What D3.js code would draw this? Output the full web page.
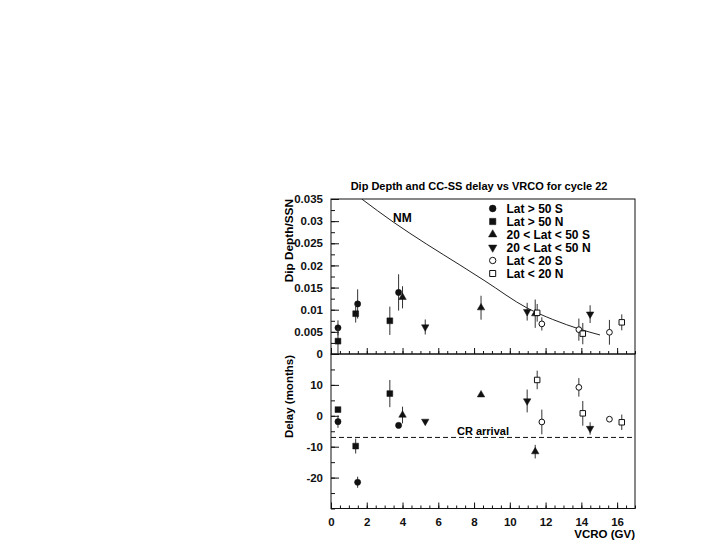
<!DOCTYPE html>
<html>
<head>
<meta charset="utf-8">
<script src="https://cdn.jsdelivr.net/npm/d3@7"></script>
<style>
  body { margin: 0; background: white; }
  svg { display: block; font-family: 'Liberation Sans', Arial, sans-serif; font-weight: bold; }
</style>
</head>
<body>
<main></main>
<script>
// Stations per latitude group: VCRO (GV), dip depth/SSN, delay (months)
const seriesNames = ['Lat > 50 S', 'Lat > 50 N', '20 < Lat < 50 S', '20 < Lat < 50 N', 'Lat < 20 S', 'Lat < 20 N'];

const vcroHiS = [0.39, 1.49, 3.78];
const dipHiS = [0.0059, 0.0113, 0.0139];
const dipErrHiS = [0.0017, 0.0033, 0.0041];
const delayHiS = [-1.9, -21.5, -3.1];
const delayErrHiS = [2.0, 1.8, 0];

const vcroHiN = [0.39, 1.38, 3.29];
const dipHiN = [0.0029, 0.0091, 0.0075];
const dipErrHiN = [0.003, 0.002, 0.0032];
const delayHiN = [2.0, -9.8, 7.2];
const delayErrHiN = [0, 2.4, 4.4];

const vcroMidS = [4.0, 8.39, 11.42];
const dipMidS = [0.0128, 0.01045, 0.0091];
const dipErrMidS = [0.0025, 0.0027, 0.0032];
const delayMidS = [0.25, 6.8, -11.6];
const delayErrMidS = [2.7, 0, 2.2];

const vcroMidN = [5.27, 10.97, 14.49];
const dipMidN = [0.0061, 0.00955, 0.009];
const dipErrMidN = [0.0017, 0.002, 0.002];
const delayMidN = [-1.8, 4.8, -4.1];
const delayErrMidN = [0, 3.7, 2.0];

const vcroLoS = [11.79, 13.86, 15.57];
const dipLoS = [0.0068, 0.0055, 0.0049];
const dipErrLoS = [0.0015, 0.0025, 0.0028];
const delayLoS = [-2.0, 9.2, -1.1];
const delayErrLoS = [4.0, 3.0, 0];

const vcroLoN = [11.53, 14.08, 16.26];
const dipLoN = [0.0093, 0.0046, 0.00715];
const dipErrLoN = [0.002, 0.0024, 0.0018];
const delayLoN = [11.6, 0.8, -2.1];
const delayErrLoN = [3.0, 4.0, 2.5];

// NM curve
const nmVcro = [1.72, 3.48, 5.35, 7.21, 8.61, 10.96, 12.4, 13.92, 15.04];
const nmDip = [0.035, 0.0298, 0.0248, 0.0201, 0.0165, 0.0104, 0.0078, 0.0056, 0.0043];

const crArrival = -7;

const xTicks = [0, 2, 4, 6, 8, 10, 12, 14, 16];
const topTicks = [0, 0.005, 0.01, 0.015, 0.02, 0.025, 0.03, 0.035];
const topTickLabels = ['0', '0.005', '0.01', '0.015', '0.02', '0.025', '0.03', '0.035'];
const botTicks = [-20, -10, 0, 10];
const botTickLabels = ['-20', '-10', '0', '10'];

const width = 720;
const height = 540;
const left = 331;
const right = 635;
const topY0 = 199;
const midY = 354;
const botY1 = 508.5;
const ink = '#111';

const groups = [
  { vcro: vcroHiS, dip: dipHiS, dipErr: dipErrHiS, delay: delayHiS, delayErr: delayErrHiS, shape: d3.symbolCircle, size: 30, rot: 0, open: false },
  { vcro: vcroHiN, dip: dipHiN, dipErr: dipErrHiN, delay: delayHiN, delayErr: delayErrHiN, shape: d3.symbolSquare, size: 34, rot: 0, open: false },
  { vcro: vcroMidS, dip: dipMidS, dipErr: dipErrMidS, delay: delayMidS, delayErr: delayErrMidS, shape: d3.symbolTriangle, size: 24, rot: 0, open: false },
  { vcro: vcroMidN, dip: dipMidN, dipErr: dipErrMidN, delay: delayMidN, delayErr: delayErrMidN, shape: d3.symbolTriangle, size: 24, rot: 180, open: false },
  { vcro: vcroLoS, dip: dipLoS, dipErr: dipErrLoS, delay: delayLoS, delayErr: delayErrLoS, shape: d3.symbolCircle, size: 26, rot: 0, open: true },
  { vcro: vcroLoN, dip: dipLoN, dipErr: dipErrLoN, delay: delayLoN, delayErr: delayErrLoN, shape: d3.symbolSquare, size: 30, rot: 0, open: true }
];

const xScale = d3.scaleLinear().domain([0, 17]).range([left, right]);
const yTop = d3.scaleLinear().domain([0, 0.035]).range([midY, topY0]);
const yBot = d3.scaleLinear().domain([-30, 20]).range([botY1, midY]);

const svg = d3.select('main')
  .append('svg')
  .attr('width', width)
  .attr('height', height)

// Title
svg.append('text')
  .text('Dip Depth and CC-SS delay vs VRCO for cycle 22')
  .attr('x', 479)
  .attr('y', 190)
  .attr('text-anchor', 'middle')
  .style('font-size', '11px')

// clip paths for each panel
const defs = svg.append('defs');
defs.append('clipPath').attr('id', 'clipTop')
  .append('rect').attr('x', left).attr('y', topY0).attr('width', right - left).attr('height', midY - topY0)
defs.append('clipPath').attr('id', 'clipBot')
  .append('rect').attr('x', left).attr('y', midY).attr('width', right - left).attr('height', botY1 - midY)

// axes helper
function xAxisAt(y, labels) {
  svg.append('g')
    .attr('transform', `translate(0, ${y})`)
    .call(d3.axisBottom(xScale).tickValues(d3.range(0, 17.01, 0.5)).tickSize(-3).tickFormat(''))
    .call(g => g.select('.domain').remove())
  const major = svg.append('g')
    .attr('transform', `translate(0, ${y})`)
    .call(d3.axisBottom(xScale).tickValues(xTicks).tickSize(-6).tickPadding(9)
      .tickFormat(d => labels ? d : ''))
    .call(g => g.select('.domain').remove())
  major.selectAll('text').style('font-size', '11.5px').style('font-family', null).attr('fill', ink)
  svg.selectAll('.tick line').attr('stroke', ink)
}

function yAxisAt(scale, minorStep, majors, labels) {
  const dom = scale.domain();
  svg.append('g')
    .attr('transform', `translate(${left}, 0)`)
    .call(d3.axisLeft(scale).tickValues(d3.range(dom[0], dom[1] + minorStep / 2, minorStep)).tickSize(-4).tickFormat(''))
    .call(g => g.select('.domain').remove())
  const major = svg.append('g')
    .attr('transform', `translate(${left}, 0)`)
    .call(d3.axisLeft(scale).tickValues(majors).tickSize(-8).tickPadding(8)
      .tickFormat((d, i) => labels[i]))
    .call(g => g.select('.domain').remove())
  major.selectAll('text').style('font-size', '11.5px').style('font-family', null).attr('fill', ink)
  svg.selectAll('.tick line').attr('stroke', ink)
}

xAxisAt(midY, false);
xAxisAt(botY1, true);
yAxisAt(yTop, 0.0025, topTicks, topTickLabels);
yAxisAt(yBot, 5, botTicks, botTickLabels);

// frames
svg.append('rect')
  .attr('x', left).attr('y', topY0).attr('width', right - left).attr('height', midY - topY0)
  .attr('fill', 'none').attr('stroke', ink).attr('stroke-width', 1)
svg.append('rect')
  .attr('x', left).attr('y', midY).attr('width', right - left).attr('height', botY1 - midY)
  .attr('fill', 'none').attr('stroke', ink).attr('stroke-width', 1)

// Axis titles
svg.append('text')
  .text('Dip Depth/SSN')
  .attr('transform', `translate(293, ${topY0}) rotate(-90)`)
  .attr('text-anchor', 'end')
  .style('font-size', '11.8px')
svg.append('text')
  .text('Delay (months)')
  .attr('transform', `translate(293, ${midY + 1}) rotate(-90)`)
  .attr('text-anchor', 'end')
  .style('font-size', '11.5px')
svg.append('text')
  .text('VCRO (GV)')
  .attr('x', right)
  .attr('y', 538)
  .attr('text-anchor', 'end')
  .style('font-size', '11.5px')

// NM curve
svg.append('path')
  .datum(nmVcro.map((v, i) => [v, nmDip[i]]))
  .attr('clip-path', 'url(#clipTop)')
  .attr('d', d3.line().x(d => xScale(d[0])).y(d => yTop(d[1])).curve(d3.curveMonotoneX))
  .attr('fill', 'none')
  .attr('stroke', '#222')
  .attr('stroke-width', 1)

svg.append('text')
  .text('NM')
  .attr('x', 393)
  .attr('y', 221.5)
  .style('font-size', '12px')

// CR arrival
svg.append('line')
  .attr('x1', left).attr('x2', right)
  .attr('y1', yBot(crArrival)).attr('y2', yBot(crArrival))
  .attr('stroke', ink)
  .attr('stroke-dasharray', '5,3')
svg.append('text')
  .text('CR arrival')
  .attr('x', 457)
  .attr('y', 435)
  .style('font-size', '11px')

// Points with error bars
function drawPanel(yScale, valKey, errKey, clip) {
  const layer = svg.append('g').attr('clip-path', `url(#${clip})`);
  groups.forEach(gr => {
    const pts = gr.vcro.map((v, i) => ({ x: v, y: gr[valKey][i], e: gr[errKey][i] }));
    layer.selectAll(null)
      .data(pts.filter(p => p.e > 0))
      .enter()
      .append('line')
      .attr('x1', p => xScale(p.x)).attr('x2', p => xScale(p.x))
      .attr('y1', p => yScale(p.y - p.e)).attr('y2', p => yScale(p.y + p.e))
      .attr('stroke', '#333')
      .attr('stroke-width', 1)
    layer.selectAll(null)
      .data(pts)
      .enter()
      .append('path')
      .attr('d', d3.symbol().type(gr.shape).size(gr.size))
      .attr('transform', p => `translate(${xScale(p.x)}, ${yScale(p.y)}) rotate(${gr.rot})`)
      .attr('fill', gr.open ? 'white' : ink)
      .attr('stroke', ink)
      .attr('stroke-width', gr.open ? 1 : 0.5)
  })
}

drawPanel(yTop, 'dip', 'dipErr', 'clipTop');
drawPanel(yBot, 'delay', 'delayErr', 'clipBot');

// Legend
const legend = svg.append('g');
groups.forEach((gr, i) => {
  const y = 208.5 + i * 13;
  legend.append('path')
    .attr('d', d3.symbol().type(gr.shape).size(gr.size + 6))
    .attr('transform', `translate(492.7, ${y}) rotate(${gr.rot})`)
    .attr('fill', gr.open ? 'white' : ink)
    .attr('stroke', ink)
    .attr('stroke-width', gr.open ? 1 : 0.5)
  legend.append('text')
    .text(seriesNames[i])
    .attr('x', 506.5)
    .attr('y', y + 4.3)
    .style('font-size', '12px')
})
</script>
</body>
</html>
